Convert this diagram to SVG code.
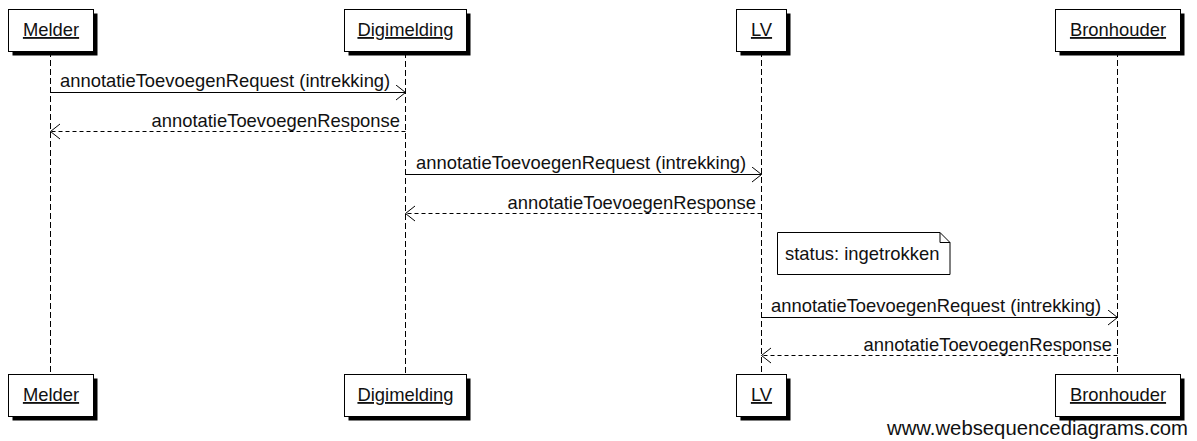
<svg xmlns="http://www.w3.org/2000/svg" width="1197" height="441" viewBox="0 0 1197 441">
<style>
text{font-family:"Liberation Sans",Arial,sans-serif;fill:#111}
.lbl{font-size:18.4px;text-decoration:underline}
.msg{font-size:18.4px}
.box{fill:#fff;stroke:#000;stroke-width:1}
.sh{fill:#000}
.life{stroke:#000;stroke-width:1;stroke-dasharray:6,3;fill:none}
.req{stroke:#000;stroke-width:1;fill:none}
.resp{stroke:#000;stroke-width:1;stroke-dasharray:4,3;fill:none}
.wm{font-size:20.3px}
</style>
<defs>
<marker id="ah" markerWidth="12" markerHeight="18" refX="10" refY="8" orient="auto" markerUnits="userSpaceOnUse">
<path d="M0.5,0.5 L10,8 L0.5,15.5" fill="none" stroke="#000" stroke-width="1"/>
</marker>
</defs>
<g id="lifelines">
<line class="life" x1="50.5" y1="51" x2="50.5" y2="374"/>
<line class="life" x1="405.5" y1="52" x2="405.5" y2="374"/>
<line class="life" x1="761.5" y1="51" x2="761.5" y2="374"/>
<line class="life" x1="1117.5" y1="51" x2="1117.5" y2="374"/>
</g>
<g id="Melder">
<rect class="sh" x="12.5" y="13.5" width="85" height="42"/>
<rect class="box" x="8.5" y="9.5" width="85" height="42"/>
<text class="lbl" x="51" y="36" text-anchor="middle">Melder</text>
<rect class="sh" x="12.5" y="378.5" width="85" height="42"/>
<rect class="box" x="8.5" y="374.5" width="85" height="42"/>
<text class="lbl" x="51" y="401" text-anchor="middle">Melder</text>
</g>
<g id="Digimelding">
<rect class="sh" x="348.5" y="13.5" width="122" height="42"/>
<rect class="box" x="344.5" y="9.5" width="122" height="42"/>
<text class="lbl" x="405.5" y="36" text-anchor="middle">Digimelding</text>
<rect class="sh" x="348.5" y="378.5" width="122" height="42"/>
<rect class="box" x="344.5" y="374.5" width="122" height="42"/>
<text class="lbl" x="405.5" y="401" text-anchor="middle">Digimelding</text>
</g>
<g id="LV">
<rect class="sh" x="740.5" y="13.5" width="50" height="42"/>
<rect class="box" x="736.5" y="9.5" width="50" height="42"/>
<text class="lbl" x="761.5" y="36" text-anchor="middle">LV</text>
<rect class="sh" x="740.5" y="378.5" width="50" height="42"/>
<rect class="box" x="736.5" y="374.5" width="50" height="42"/>
<text class="lbl" x="761.5" y="401" text-anchor="middle">LV</text>
</g>
<g id="Bronhouder">
<rect class="sh" x="1059.5" y="13.5" width="125" height="42"/>
<rect class="box" x="1055.5" y="9.5" width="125" height="42"/>
<text class="lbl" x="1118" y="36" text-anchor="middle">Bronhouder</text>
<rect class="sh" x="1059.5" y="378.5" width="125" height="42"/>
<rect class="box" x="1055.5" y="374.5" width="125" height="42"/>
<text class="lbl" x="1118" y="401" text-anchor="middle">Bronhouder</text>
</g>
<g id="note">
<path class="box" d="M777.5,232.5 H940 L950,242.5 V274.5 H777.5 Z"/>
<path d="M940,232.5 V242.5 H950" fill="none" stroke="#000" stroke-width="1"/>
<text class="msg" x="785" y="260">status: ingetrokken</text>
</g>
<g id="connectors">
<line class="req" x1="50.5" y1="92.5" x2="405.5" y2="92.5" marker-end="url(#ah)"/>
<text class="msg" x="60" y="87">annotatieToevoegenRequest (intrekking)</text>
<line class="resp" x1="405.5" y1="131.5" x2="50.5" y2="131.5" marker-end="url(#ah)"/>
<text class="msg" x="400" y="127" text-anchor="end">annotatieToevoegenResponse</text>
<line class="req" x1="405.5" y1="174.5" x2="761.5" y2="174.5" marker-end="url(#ah)"/>
<text class="msg" x="416" y="169">annotatieToevoegenRequest (intrekking)</text>
<line class="resp" x1="761.5" y1="213.5" x2="405.5" y2="213.5" marker-end="url(#ah)"/>
<text class="msg" x="756" y="209" text-anchor="end">annotatieToevoegenResponse</text>
<line class="req" x1="761.5" y1="317.5" x2="1117.5" y2="317.5" marker-end="url(#ah)"/>
<text class="msg" x="771" y="312">annotatieToevoegenRequest (intrekking)</text>
<line class="resp" x1="1117.5" y1="355.5" x2="761.5" y2="355.5" marker-end="url(#ah)"/>
<text class="msg" x="1112" y="351" text-anchor="end">annotatieToevoegenResponse</text>
</g>
<text class="wm" x="1188" y="435" text-anchor="end">www.websequencediagrams.com</text>
</svg>
